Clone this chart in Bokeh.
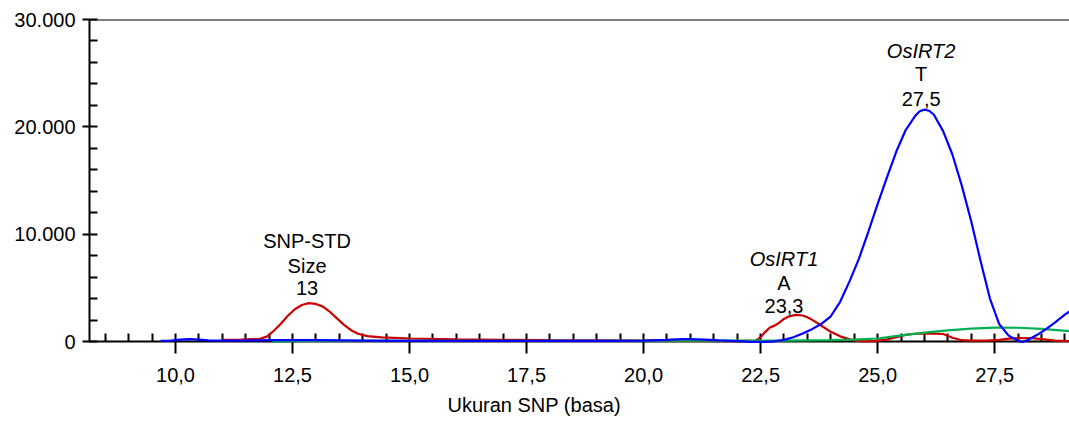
from bokeh.plotting import figure
from bokeh.models import Range1d, FixedTicker, Label, Span, Title
from bokeh.embed import file_html
from bokeh.resources import INLINE

# ---- data ----
x_tick_values = [10.0, 12.5, 15.0, 17.5, 20.0, 22.5, 25.0, 27.5]
x_tick_labels = ["10,0", "12,5", "15,0", "17,5", "20,0", "22,5", "25,0", "27,5"]
x_minor_values = [8.5, 9.0, 9.5, 10.5, 11.0, 11.5, 12.0, 13.0, 13.5, 14.0, 14.5,
                  15.5, 16.0, 16.5, 17.0, 18.0, 18.5, 19.0, 19.5, 20.5, 21.0, 21.5,
                  22.0, 23.0, 23.5, 24.0, 24.5, 25.5, 26.0, 26.5, 27.0, 28.0, 28.5, 29.0]
y_tick_values = [0, 10000, 20000, 30000]
y_tick_labels = ["0", "10.000", "20.000", "30.000"]
y_minor_values = [2000, 4000, 6000, 8000, 12000, 14000, 16000, 18000,
                  22000, 24000, 26000, 28000]

blue_x = [9.68, 9.9, 10.1, 10.3, 10.5, 10.7, 11.0, 11.5, 12.0, 12.5, 13.0, 13.5, 14.0,
          15.0, 16.0, 17.0, 18.0, 19.0, 20.0, 20.5, 20.8, 21.0, 21.3, 21.6, 22.0, 22.3,
          22.6, 22.8, 23.0, 23.2, 23.4, 23.6, 23.8, 24.0, 24.2, 24.4, 24.6, 24.8, 25.0,
          25.2, 25.4, 25.6, 25.8, 25.9, 26.0, 26.1, 26.2, 26.4, 26.6, 26.8, 27.0, 27.2,
          27.4, 27.6, 27.8, 28.0, 28.1, 28.2, 28.4, 28.6, 28.8, 29.0, 29.12]
blue_y = [50, 80, 180, 220, 180, 110, 90, 100, 120, 130, 130, 110, 90,
          60, 50, 50, 50, 60, 80, 150, 220, 230, 180, 110, 30, -30,
          -40, 20, 150, 400, 750, 1150, 1650, 2350, 3700, 5600, 7700, 10200, 12800,
          15300, 17700, 19700, 21000, 21450, 21600, 21500, 21150, 19600, 17400, 14500, 11200, 7500,
          4000, 1600, 550, 60, -50, 120, 600, 1150, 1800, 2500, 2850]

red_x = [11.0, 11.4, 11.8, 11.95, 12.1, 12.25, 12.4, 12.55, 12.7, 12.85, 13.0, 13.15,
         13.3, 13.45, 13.6, 13.75, 13.9, 14.1, 14.4, 14.8, 15.0, 16.0, 17.0, 18.0, 19.0,
         20.0, 21.0, 22.0, 22.4, 22.5, 22.6, 22.7, 22.8, 22.9, 23.0, 23.1, 23.25, 23.4,
         23.5, 23.65, 23.8, 24.0, 24.2, 24.4, 24.6, 24.8, 25.0, 25.2, 25.4, 25.6, 25.8,
         26.0, 26.2, 26.4, 26.6, 26.8, 27.0, 27.3, 27.6, 27.8, 28.0, 28.3, 28.6, 28.8, 29.12]
red_y = [150, 180, 250, 450, 1000, 1650, 2400, 3000, 3400, 3570, 3500, 3250,
         2750, 2150, 1550, 1050, 720, 500, 380, 320, 280, 200, 150, 120, 100,
         80, 50, 30, 80, 400, 900, 1300, 1480, 1750, 2100, 2330, 2480, 2420,
         2260, 1900, 1470, 900, 480, 200, 30, 20, 60, 200, 400, 620, 720,
         740, 740, 700, 350, 120, 80, 80, 150, 260, 320, 320, 180, 80, 30]

green_x = [12.07, 13.0, 15.0, 17.0, 19.0, 21.0, 23.0, 24.0, 24.5, 25.0, 25.3, 25.6,
           26.0, 26.5, 27.0, 27.5, 28.0, 28.5, 29.12]
green_y = [20, 60, 70, 70, 70, 80, 90, 120, 180, 280, 450, 620,
           820, 1030, 1200, 1300, 1280, 1180, 960]

annotations = [
    (12.81, ["SNP-STD", "Size", "13"], "normal"),
    (23.0, ["OsIRT1", "A", "23,3"], "italic"),
    (25.93, ["OsIRT2", "T", "27,5"], "italic"),
]
annotation_baselines = {
    12.81: [9334, 7066, 4984],
    23.0: [7691, 5451, 3332],
    25.93: [27069, 24894, 22589],
}

FONT = "Liberation Sans"

p = figure(width=1069, height=421, output_backend="svg", toolbar_location=None,
           x_range=Range1d(8.162, 29.1), y_range=Range1d(0, 30000),
           min_border_left=89, min_border_right=0, min_border_top=19,
           min_border_bottom=80)
p.outline_line_color = None
p.xgrid.visible = False
p.ygrid.visible = False
p.background_fill_color = "white"
p.border_fill_color = "white"

for ax in (p.xaxis[0], p.yaxis[0]):
    ax.axis_line_width = 2
    ax.axis_line_color = "black"
    ax.major_tick_line_width = 2
    ax.minor_tick_line_width = 2
    ax.major_tick_line_color = "black"
    ax.minor_tick_line_color = "black"
    ax.major_label_text_font = FONT
    ax.major_label_text_font_size = "20px"
    ax.major_label_text_color = "black"

p.xaxis.ticker = FixedTicker(ticks=x_tick_values, minor_ticks=x_minor_values)
p.xaxis.major_label_overrides = {v: l for v, l in zip(x_tick_values, x_tick_labels)}
p.xaxis.major_tick_in = 8
p.xaxis.major_tick_out = 12
p.xaxis.minor_tick_in = 8
p.xaxis.minor_tick_out = 0
p.xaxis.major_label_standoff = 14
# tiny invisible spacer label to push the axis title down a little
p.xaxis.axis_label = " "
p.xaxis.axis_label_text_font_size = "2px"
p.xaxis.axis_label_standoff = 2

p.yaxis.ticker = FixedTicker(ticks=y_tick_values, minor_ticks=y_minor_values)
p.yaxis.major_label_overrides = {v: l for v, l in zip(y_tick_values, y_tick_labels)}
p.yaxis.major_tick_in = 8
p.yaxis.major_tick_out = 7
p.yaxis.minor_tick_in = 8
p.yaxis.minor_tick_out = 0
p.yaxis.major_label_standoff = 7

p.add_layout(Span(location=30000, dimension="width", line_color="black", line_width=2))

r1 = p.line(red_x, red_y, line_color="#CC0000", line_width=2.2)
r2 = p.line(green_x, green_y, line_color="#00B050", line_width=2.2)
r3 = p.line(blue_x, blue_y, line_color="#0000FF", line_width=2.2)
for r in (r1, r2, r3):
    r.level = "overlay"

for x, lines, style in annotations:
    for i, (txt, yb) in enumerate(zip(lines, annotation_baselines[x])):
        p.add_layout(Label(x=x, y=yb, text=txt, text_align="center",
                           text_baseline="alphabetic", text_font=FONT,
                           text_font_size="20px", text_color="black",
                           text_font_style=style if i == 0 else "normal"))

p.add_layout(Title(text="Ukuran SNP (basa)", align="left", offset=358,
                   text_font=FONT, text_font_size="20px", text_font_style="normal",
                   text_color="black", standoff=0), "below")

open("out.html", "w").write(file_html(p, INLINE))
